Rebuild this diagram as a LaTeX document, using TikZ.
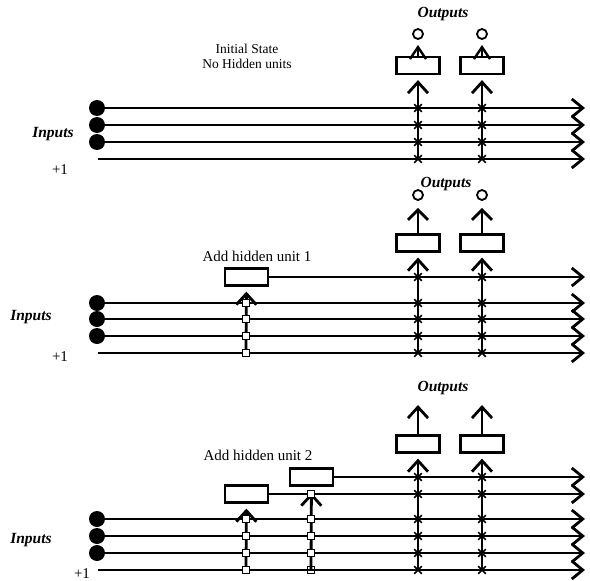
\documentclass[tikz,border=0pt]{standalone}
\usepackage{fontspec}
\setmainfont{Liberation Serif}
\usetikzlibrary{arrows.meta,shapes.misc}
\begin{document}
\begin{tikzpicture}[x = 1pt, y = -1pt,
	wire/.style = {line width = 2.8pt, -{Straight Barb[length = 11pt, width = 18pt]}},
	feed/.style = {line width = 2.8pt, -{Straight Barb[length = 11pt, width = 20pt]}, shorten >= 5pt},
	unitbox/.style = {draw, line width = 2.2pt, minimum width = 43pt, minimum height = 17pt, inner sep = 0pt},
	outdot/.style = {draw, circle, line width = 1.8pt, minimum size = 10pt, inner sep = 0pt},
	bullet/.style = {fill, circle, minimum size = 16pt, inner sep = 0pt},
	xmark/.style = {cross out, draw, line width = 1.6pt, minimum size = 6pt, inner sep = 0pt},
	sqmark/.style = {draw, fill = white, line width = 1.6pt, minimum size = 7pt, inner sep = 0pt},
	lbl/.style = {font = \fontsize{15.5}{17}\selectfont\bfseries\itshape},
	txt/.style = {font = \fontsize{15}{17}\selectfont}]
	\useasboundingbox (0, 0) rectangle (590, 581);
	%Initial state
		\node[align = center, font = \fontsize{13.5}{15}\selectfont] (note) at (247, 56) {Initial State\\No Hidden units};
		\node[lbl] (outA) at (443, 14) {Outputs};
		\node[lbl] (inA) at (53, 134) {Inputs};
		\node[txt] (oneA) at (60, 170) {+1};
		%Inputs
		\foreach \y [count = \i] in {108, 125, 142}
			\node[bullet] (a\i) at (97, \y) {};
		\coordinate (a4) at (98, 159);
		\foreach \y [count = \i] in {108, 125, 142, 159} {
			\coordinate (ae\i) at (585, \y);
			\draw[wire] (a\i) -- (ae\i);
		}
		%Output units
		\foreach \x [count = \k] in {418, 482} {
			\node[unitbox] (oA\k) at (\x, 65.5) {};
			\node[outdot] (cA\k) at (\x, 34) {};
			\coordinate (bA\k) at (\x, 159);
			\draw[feed] (bA\k) -- (oA\k);
			\draw[line width = 2.4pt, -{Straight Barb[length = 12pt, width = 16pt]}, shorten >= 5pt] (oA\k) -- (cA\k);
			\foreach \y in {108, 125, 142, 159}
				\node[xmark] (xA\k\y) at (\x, \y) {};
		}
	%Hidden unit 1
		\node[lbl] (outB) at (446, 184) {Outputs};
		\node[lbl] (inB) at (31, 317) {Inputs};
		\node[txt] (oneB) at (60, 357) {+1};
		\node[txt] (addB) at (257, 256) {Add hidden unit 1};
		%Inputs
		\foreach \y [count = \i] in {303, 319, 336}
			\node[bullet] (b\i) at (97, \y) {};
		\coordinate (b4) at (98, 353);
		\foreach \y [count = \i] in {303, 319, 336, 353} {
			\coordinate (be\i) at (585, \y);
			\draw[wire] (b\i) -- (be\i);
		}
		%Hidden
		\node[unitbox] (hB) at (246.5, 277) {};
		\coordinate (hBe) at (585, 277);
		\draw[wire] (hB) -- (hBe);
		\coordinate (hBb) at (246, 353);
		\draw[feed] (hBb) -- (hB);
		\foreach \y in {303, 319, 336, 353}
			\node[sqmark] (sB\y) at (246, \y) {};
		%Output units
		\foreach \x [count = \k] in {418, 482} {
			\node[unitbox] (oB\k) at (\x, 243) {};
			\node[outdot] (cB\k) at (\x, 195) {};
			\coordinate (bB\k) at (\x, 353);
			\draw[feed] (bB\k) -- (oB\k);
			\draw[line width = 2.8pt, -{Straight Barb[length = 10pt, width = 20pt]}, shorten >= 7pt] (oB\k) -- (cB\k);
			\foreach \y in {277, 303, 319, 336, 353}
				\node[xmark] (xB\k\y) at (\x, \y) {};
		}
	%Hidden unit 2
		\node[lbl] (outC) at (443, 388) {Outputs};
		\node[lbl] (inC) at (31, 540) {Inputs};
		\node[txt] (oneC) at (82, 574) {+1};
		\node[txt] (addC) at (258, 455) {Add hidden unit 2};
		%Inputs
		\foreach \y [count = \i] in {519, 536, 553}
			\node[bullet] (c\i) at (97, \y) {};
		\coordinate (c4) at (98, 570);
		\foreach \y [count = \i] in {519, 536, 553, 570} {
			\coordinate (ce\i) at (585, \y);
			\draw[wire] (c\i) -- (ce\i);
		}
		%Hidden
		\node[unitbox] (hC1) at (246.5, 494) {};
		\node[unitbox] (hC2) at (311.5, 477) {};
		\coordinate (hC1e) at (585, 494);
		\coordinate (hC2e) at (585, 477);
		\draw[wire] (hC1) -- (hC1e);
		\draw[wire] (hC2) -- (hC2e);
		\coordinate (hC1b) at (246, 570);
		\coordinate (hC2b) at (311, 570);
		\draw[feed] (hC1b) -- (hC1);
		\draw[feed, shorten >= 6pt] (hC2b) -- (hC2);
		\foreach \y in {519, 536, 553, 570}
			\node[sqmark] (sC\y) at (246, \y) {};
		\foreach \y in {494, 519, 536, 553}
			\node[sqmark] (tC\y) at (311, \y) {};
		\node[sqmark, fill = none] (tC570) at (311, 570) {};
		%Output units
		\foreach \x [count = \k] in {418, 482} {
			\node[unitbox] (oC\k) at (\x, 444) {};
			\coordinate (tpC\k) at (\x, 405);
			\coordinate (bC\k) at (\x, 570);
			\draw[feed] (bC\k) -- (oC\k);
			\draw[line width = 2.8pt, -{Straight Barb[length = 11pt, width = 20pt]}] (oC\k) -- (tpC\k);
			\foreach \y in {477, 494, 519, 536, 553, 570}
				\node[xmark] (xC\k\y) at (\x, \y) {};
		}
\end{tikzpicture}
\end{document}
